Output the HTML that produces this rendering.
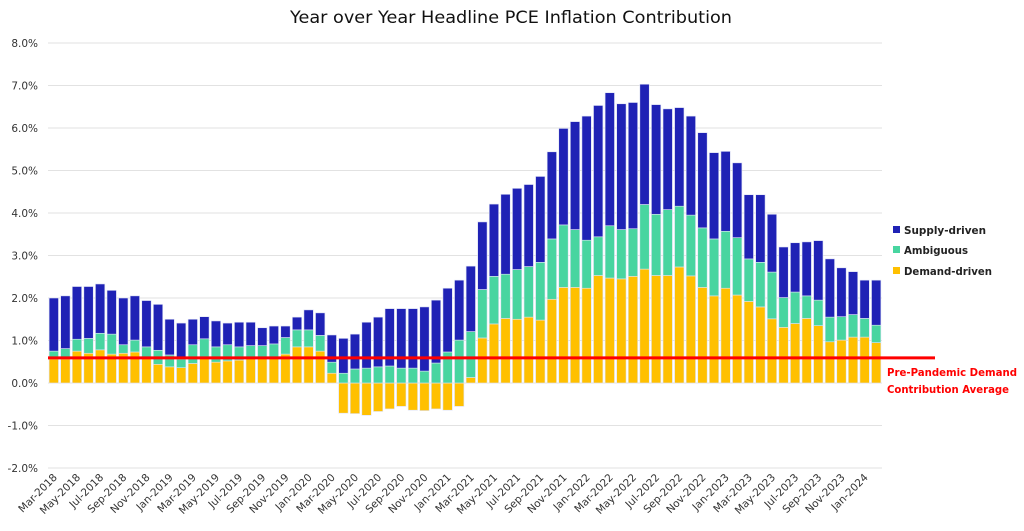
<!DOCTYPE html>
<html><head><meta charset="utf-8"><style>
body{margin:0;background:#fff;width:1024px;height:531px;overflow:hidden}
svg{display:block}
text{font-family:"DejaVu Sans","Liberation Sans",sans-serif}
</style></head><body>
<svg id="chart" width="1024" height="531">
<text x="511" y="23" text-anchor="middle" font-size="17" textLength="442" lengthAdjust="spacingAndGlyphs" fill="#111">Year over Year Headline PCE Inflation Contribution</text>
<g id="grid"></g>
<g id="yaxis"></g>
<g id="bars"></g>
<g id="xaxis"></g>
<line id="refline" stroke="#ff0000" stroke-width="3"/>
<g>
 <g><rect x="893" y="226" width="7" height="7" fill="#1f22b5"/><text x="904" y="234" font-size="11" font-weight="bold" fill="#222" textLength="82" lengthAdjust="spacingAndGlyphs">Supply-driven</text></g>
 <g><rect x="893" y="246" width="7" height="7" fill="#48d5a0"/><text x="904" y="254" font-size="11" font-weight="bold" fill="#222" textLength="64" lengthAdjust="spacingAndGlyphs">Ambiguous</text></g>
 <g><rect x="893" y="267" width="7" height="7" fill="#ffc000"/><text x="904" y="275" font-size="11" font-weight="bold" fill="#222" textLength="88" lengthAdjust="spacingAndGlyphs">Demand-driven</text></g>
</g>
<text x="887" y="376" font-size="11" font-weight="bold" fill="#ff0000" textLength="130" lengthAdjust="spacingAndGlyphs">Pre-Pandemic Demand</text>
<text x="887" y="393" font-size="11" font-weight="bold" fill="#ff0000" textLength="122" lengthAdjust="spacingAndGlyphs">Contribution Average</text>
</svg>
<script>
const demand=[0.56,0.56,0.75,0.70,0.78,0.68,0.70,0.73,0.60,0.44,0.38,0.36,0.46,0.60,0.49,0.52,0.54,0.60,0.60,0.60,0.68,0.85,0.85,0.75,0.23,-0.71,-0.72,-0.76,-0.67,-0.61,-0.55,-0.64,-0.65,-0.61,-0.64,-0.55,0.13,1.06,1.39,1.52,1.50,1.55,1.48,1.97,2.25,2.25,2.23,2.53,2.47,2.45,2.51,2.68,2.53,2.53,2.73,2.52,2.25,2.05,2.23,2.07,1.92,1.79,1.51,1.31,1.40,1.52,1.35,0.97,1.01,1.08,1.08,0.95];
const ambiguous=[0.19,0.25,0.28,0.35,0.39,0.47,0.20,0.28,0.25,0.33,0.28,0.20,0.44,0.44,0.36,0.38,0.31,0.28,0.28,0.32,0.39,0.40,0.40,0.37,0.26,0.23,0.33,0.35,0.38,0.40,0.35,0.35,0.28,0.47,0.73,1.01,1.08,1.14,1.12,1.04,1.17,1.19,1.36,1.42,1.47,1.36,1.13,0.91,1.23,1.16,1.12,1.52,1.44,1.55,1.43,1.43,1.40,1.34,1.34,1.35,1.00,1.05,1.10,0.70,0.74,0.53,0.60,0.58,0.55,0.53,0.44,0.41];
const supply=[1.25,1.24,1.24,1.22,1.16,1.03,1.10,1.04,1.09,1.08,0.84,0.85,0.60,0.52,0.61,0.51,0.58,0.55,0.42,0.42,0.27,0.30,0.47,0.53,0.64,0.82,0.82,1.08,1.17,1.35,1.40,1.40,1.51,1.48,1.50,1.41,1.54,1.59,1.70,1.88,1.91,1.93,2.02,2.05,2.27,2.54,2.92,3.09,3.13,2.96,2.97,2.83,2.58,2.37,2.32,2.33,2.24,2.03,1.88,1.76,1.51,1.59,1.36,1.19,1.16,1.27,1.40,1.37,1.15,1.01,0.90,1.06];
const xLabels=["Mar-2018","May-2018","Jul-2018","Sep-2018","Nov-2018","Jan-2019","Mar-2019","May-2019","Jul-2019","Sep-2019","Nov-2019","Jan-2020","Mar-2020","May-2020","Jul-2020","Sep-2020","Nov-2020","Jan-2021","Mar-2021","May-2021","Jul-2021","Sep-2021","Nov-2021","Jan-2022","Mar-2022","May-2022","Jul-2022","Sep-2022","Nov-2022","Jan-2023","Mar-2023","May-2023","Jul-2023","Sep-2023","Nov-2023","Jan-2024"];
const yTicks=[8,7,6,5,4,3,2,1,0,-1,-2];
const refValue=0.59;

const NS="http://www.w3.org/2000/svg";
const L=48,R=882,N=demand.length,band=(R-L)/N,bw=9.4;
const y=v=>383-v*42.5;
const x=i=>L+band*(i+0.5);
function mk(tag,attrs,parent){const e=document.createElementNS(NS,tag);for(const k in attrs)e.setAttribute(k,attrs[k]);parent.appendChild(e);return e;}
const grid=document.getElementById('grid'),ya=document.getElementById('yaxis'),bars=document.getElementById('bars'),xa=document.getElementById('xaxis');
yTicks.forEach(t=>{
 const g=mk('line',{x1:L,x2:R,y1:y(t),y2:y(t),stroke:'#e2e2e2','stroke-width':1},grid);
 
 
 const tx=mk('text',{x:38,y:y(t)+4,'text-anchor':'end','font-size':10.5,fill:'#333'},ya);
 tx.textContent=t.toFixed(1)+'%';
 
 
});
function bar(i,v0,v1,color,name){
 const top=Math.min(y(v0),y(v1)),h=Math.abs(y(v1)-y(v0));
 const r=mk('rect',{x:x(i)-bw/2,y:top,width:bw,height:h,fill:color,stroke:'#dfe3f5','stroke-width':0.6},bars);
 
 
}
for(let i=0;i<N;i++){
 const d=demand[i];
 bar(i,0,d,'#ffc000','bar-demand');
 const b=Math.max(d,0);
 bar(i,b,b+ambiguous[i],'#48d5a0','bar-ambiguous');
 bar(i,b+ambiguous[i],b+ambiguous[i]+supply[i],'#1f22b5','bar-supply');
}
xLabels.forEach((s,k)=>{
 const i=k*2,px=x(i)+4,py=478;
 const t=mk('text',{x:px,y:py,'text-anchor':'end','font-size':10.5,fill:'#333',transform:`rotate(-45 ${px} ${py})`},xa);
 t.textContent=s;
 
 
});
const rl=document.getElementById('refline');
rl.setAttribute('x1',L);rl.setAttribute('x2',935);rl.setAttribute('y1',y(refValue));rl.setAttribute('y2',y(refValue));
</script>
</body></html>
